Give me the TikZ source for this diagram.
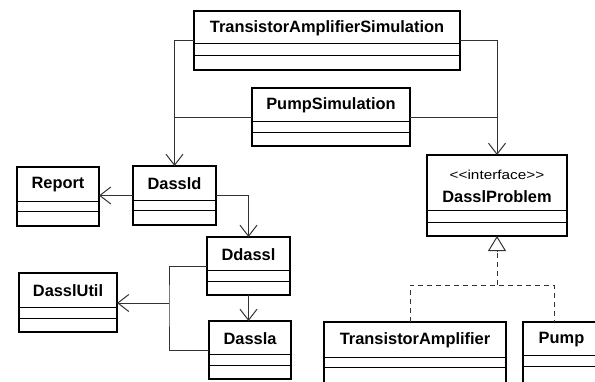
\documentclass[tikz,border=0pt]{standalone}
\usepackage{fontspec}
\setmainfont{Liberation Sans}
\usetikzlibrary{arrows.meta,calc}
\tikzset{
  x=1pt,y=1pt,
  classbox/.style={draw=black,line width=2pt,fill=white,inner sep=0pt,outer sep=0pt},
  comp/.style={draw=black,line width=1pt},
  classname/.style={font=\bfseries\fontsize{16.4}{16.4}\selectfont,inner sep=0pt},
  stereo/.style={font=\fontsize{13}{13}\selectfont,inner sep=0pt},
  conn/.style={draw=black!80,line width=1pt},
  nav/.style={conn,-{Straight Barb[length=11pt,width=17pt,line width=1pt]}},
  real/.style={conn,dashed,dash pattern=on 5pt off 4pt},
  realtip/.style={conn,-{Triangle[open,length=15pt,width=18pt,line width=1pt,fill=white]}},
}
\newcommand\umlbox[8]{%
  \node[classbox,minimum width={(#4-#2)*1pt},minimum height={(#5-#3)*1pt},anchor=north west] (#1) at (#2,-#3) {};
  \draw[comp] (#2,-#6) -- (#4,-#6);
  \draw[comp] (#2,-#7) -- (#4,-#7);
  \node[classname] (#1-label) at ({(#2+#4)/2},{-(#3+#6)/2-1}) {#8};
}
\begin{document}
\begin{tikzpicture}
\useasboundingbox (0,0) rectangle (595,-381);
\clip (0,0) rectangle (595,-381);
\umlbox{TAS}{194}{11}{460}{70}{43}{55}{TransistorAmplifierSimulation}
\umlbox{PS}{252}{88}{410}{146}{121}{132}{PumpSimulation}
\umlbox{Report}{17}{167}{99}{226}{201}{211}{Report}
\umlbox{Dassld}{133}{166}{216}{225}{200}{210}{Dassld}
\umlbox{Ddassl}{207}{237}{290}{295}{270}{281}{Ddassl}
\umlbox{Dassla}{209}{321}{291}{379}{354}{365}{Dassla}
\umlbox{DasslUtil}{19}{273}{117}{332}{307}{318}{DasslUtil}
\umlbox{TA}{324}{322}{506}{386}{357}{367}{TransistorAmplifier}
\umlbox{Pump}{523}{322}{600}{386}{355}{366}{Pump}
% DasslProblem (interface)
\node[classbox,minimum width=140pt,minimum height=81pt,anchor=north west] (DP) at (427,-155) {};
\draw[comp] (427,-210) -- (567,-210);
\draw[comp] (427,-222) -- (567,-222);
\node[stereo] (DP-stereo) at (497,-175) {\scalebox{1.18}[1]{<\kern0pt<\kern0pt interface>\kern0pt>}};
\node[classname] (DP-label) at (497,-197) {DasslProblem};
% associations
\draw[nav] (TAS.west) -| (Dassld.north);
\draw[conn] (PS.west) -- (PS.west -| Dassld.north);
\draw[nav] (TAS.east) -| (DP.north);
\draw[conn] (PS.east) -- (PS.east -| DP.north);
\draw[nav] (Dassld.west) -- (Report.east |- Dassld.west);
\draw[nav] (Dassld.east) -| (Ddassl.north);
\draw[nav] (Ddassl.south) -- (Ddassl.south |- Dassla.north);
\coordinate (bus) at (169,-303);
\draw[conn] (Ddassl.west) -| (bus) |- (Dassla.west);
\draw[nav] (bus) -- (DasslUtil.east |- bus);
% realization
\coordinate (ta-top) at (410,-322);
\coordinate (pump-top) at (554,-322);
\coordinate (rjoin) at (DP.south |- 0,-285);
\draw[real] (ta-top) |- (rjoin) -| (pump-top);
\draw[real] (rjoin) -- ($(DP.south)+(0,-15)$);
\draw[realtip] ($(DP.south)+(0,-16)$) -- (DP.south);
\end{tikzpicture}
\end{document}
